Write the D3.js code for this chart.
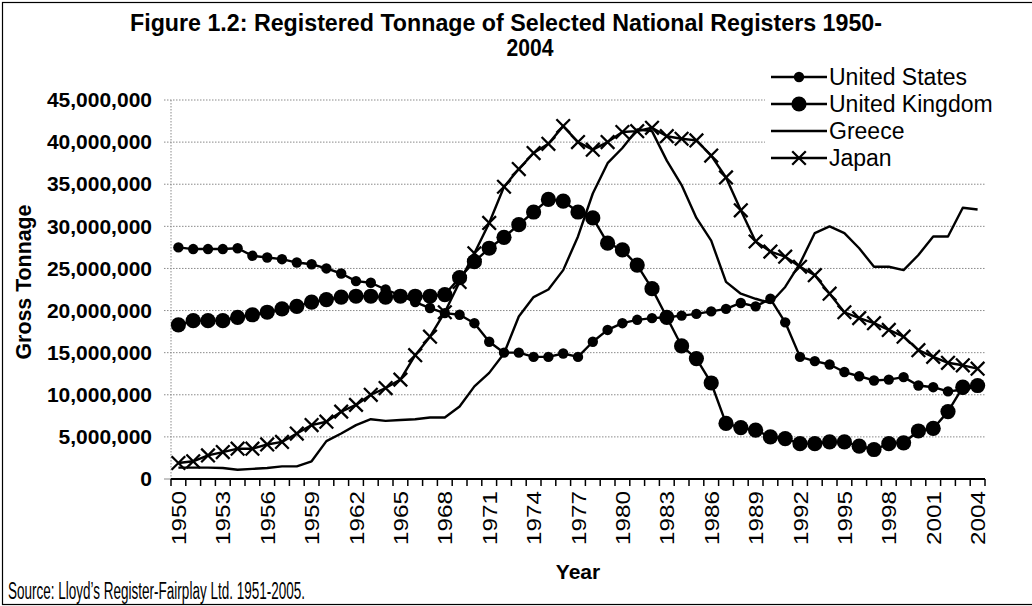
<!DOCTYPE html>
<html><head><meta charset="utf-8">
<script src="https://cdn.jsdelivr.net/npm/d3@7"></script>
<style>
html,body{margin:0;padding:0;background:#fff;}
svg{display:block;font-family:"Liberation Sans",Arial,sans-serif;}
</style></head>
<body><svg id="c" width="1032" height="606"></svg>
<script>
const years = [1950,1951,1952,1953,1954,1955,1956,1957,1958,1959,1960,1961,1962,1963,1964,1965,1966,1967,1968,1969,
1970,1971,1972,1973,1974,1975,1976,1977,1978,1979,1980,1981,1982,1983,1984,1985,1986,1987,1988,1989,
1990,1991,1992,1993,1994,1995,1996,1997,1998,1999,2000,2001,2002,2003,2004];
const tickYears = [1950,1953,1956,1959,1962,1965,1968,1971,1974,1977,1980,1983,1986,1989,1992,1995,1998,2001,2004];
const yTicks = [0,5e6,10e6,15e6,20e6,25e6,30e6,35e6,40e6,45e6];
// values in millions of gross tons
const unitedStates = [27.5,27.3,27.3,27.3,27.4,26.5,26.3,26.1,25.7,25.5,25.0,24.4,23.5,23.3,22.5,21.8,21.0,20.3,19.7,19.5,
18.5,16.3,15.0,15.0,14.5,14.5,14.9,14.5,16.3,17.7,18.5,18.9,19.1,19.2,19.4,19.6,19.9,20.2,20.9,20.5,
21.4,18.6,14.5,14.0,13.6,12.7,12.2,11.7,11.8,12.1,11.1,10.9,10.4,10.6,11.0];
const unitedKingdom = [18.3,18.8,18.8,18.8,19.2,19.5,19.8,20.2,20.5,21.0,21.3,21.6,21.7,21.7,21.6,21.7,21.7,21.7,21.9,23.9,
25.8,27.4,28.7,30.2,31.7,33.2,33.0,31.7,31.0,28.0,27.2,25.4,22.6,19.2,15.8,14.3,11.4,6.6,6.1,5.8,
5.0,4.8,4.2,4.2,4.4,4.4,3.9,3.5,4.2,4.3,5.7,6.0,8.0,10.9,11.1];
const greece = [1.35,1.35,1.35,1.3,1.1,1.2,1.3,1.5,1.5,2.1,4.5,5.4,6.4,7.1,6.9,7.0,7.1,7.3,7.3,8.6,
11.0,12.6,14.9,19.3,21.6,22.5,24.8,28.8,33.9,37.5,39.3,41.5,41.3,37.8,34.9,31.0,28.3,23.4,22.0,21.4,
20.9,22.8,25.6,29.2,30.0,29.2,27.4,25.2,25.2,24.8,26.6,28.8,28.8,32.2,32.0];
const japan = [1.9,2.1,2.8,3.2,3.6,3.6,4.1,4.4,5.4,6.4,6.8,8.0,8.8,10.0,10.8,11.8,14.7,16.9,19.8,23.4,
26.8,30.4,34.7,36.8,38.7,39.8,41.9,40.0,39.1,40.0,41.2,41.3,41.7,40.7,40.4,40.2,38.4,35.8,31.9,28.2,
27.0,26.4,25.2,24.2,22.0,19.8,19.1,18.5,17.7,16.9,15.3,14.5,13.8,13.5,13.1];
const seriesNames = ["United States","United Kingdom","Greece","Japan"];
const markerTypes = ["smallDot","bigDot","none","cross"];

const series = [unitedStates, unitedKingdom, greece, japan].map((vals,i)=>({
  name: seriesNames[i], marker: markerTypes[i],
  points: vals.map((v,j)=>({year: years[j], value: v*1e6}))
}));

const svg = d3.select("#c");
const L = 171, R = 985, T = 100, B = 479;
const x = d3.scaleBand().domain(years).range([L, R]).padding(0);
const cx = d => x(d) + x.bandwidth()/2;
const y = d3.scaleLinear().domain([0, 45e6]).range([B, T]);

// outer frame
svg.append("rect").attr("x",2.5).attr("y",2.5).attr("width",1040).attr("height",602)
  .attr("fill","none").attr("stroke","#000").attr("stroke-width",1.2);

// gridlines (dotted) + small left ticks
const grid = svg.append("g");
grid.selectAll("line").data(yTicks.filter(t=>t>0)).join("line")
  .attr("x1", L-7).attr("x2", R).attr("y1", d=>y(d)).attr("y2", d=>y(d))
  .attr("stroke","#8a8a8a").attr("stroke-width",1).attr("stroke-dasharray","1.5,1.5");
grid.append("line").attr("x1",L).attr("x2",L).attr("y1",T).attr("y2",B)
  .attr("stroke","#8a8a8a").attr("stroke-width",1).attr("stroke-dasharray","1.5,1.5");
grid.append("line").attr("x1",L-7).attr("x2",L).attr("y1",B).attr("y2",B)
  .attr("stroke","#8a8a8a").attr("stroke-width",1);

// y axis labels
const yAxis = d3.axisLeft(y).tickValues(yTicks).tickFormat(d3.format(",")).tickSize(0).tickPadding(0);
const gy = svg.append("g").attr("transform",`translate(${L-19},0)`).call(yAxis);
gy.select(".domain").remove();
gy.selectAll("text").attr("font-size",21).attr("font-weight","bold").attr("fill","#000")
  .attr("font-family",'"Liberation Sans",Arial,sans-serif');

// x axis
const xAxis = d3.axisBottom(x).tickValues(tickYears).tickSize(0).tickPadding(0);
const gx = svg.append("g").attr("transform",`translate(0,${B})`).call(xAxis);
gx.select(".domain").remove();
gx.selectAll("text").attr("font-size",21).attr("fill","#000")
  .attr("font-family",'"Liberation Sans",Arial,sans-serif')
  .attr("transform","translate(0,12) rotate(-90)")
  .attr("text-anchor","end").attr("dy","0.36em").attr("x",0).attr("y",0)
  .attr("textLength",54).attr("lengthAdjust","spacingAndGlyphs");
// tick marks at band boundaries
const bounds = years.map(yy=>x(yy)).concat([R]);
svg.append("g").selectAll("line").data(bounds).join("line")
  .attr("x1",d=>d).attr("x2",d=>d).attr("y1",B).attr("y2",B+7)
  .attr("stroke","#000").attr("stroke-width",1.5);
svg.append("line").attr("x1",L).attr("x2",R).attr("y1",B).attr("y2",B)
  .attr("stroke","#000").attr("stroke-width",1.8);

// series
const line = d3.line().x(d=>cx(d.year)).y(d=>y(d.value));
function drawMarker(g, type, px, py){
  if(type==="smallDot") g.append("circle").attr("cx",px).attr("cy",py).attr("r",5.2).attr("fill","#000");
  else if(type==="bigDot") g.append("circle").attr("cx",px).attr("cy",py).attr("r",7.6).attr("fill","#000");
  else if(type==="cross"){
    const s=6.8;
    g.append("path").attr("d",`M${px-s},${py-s}L${px+s},${py+s}M${px-s},${py+s}L${px+s},${py-s}`)
      .attr("stroke","#000").attr("stroke-width",2.3).attr("fill","none");
  }
}
series.forEach(s=>{
  const g = svg.append("g");
  g.append("path").datum(s.points).attr("d",line).attr("fill","none")
    .attr("stroke","#000").attr("stroke-width",2.4).attr("stroke-linejoin","round");
  s.points.forEach(p=>drawMarker(g, s.marker, cx(p.year), y(p.value)));
});

// legend
const lg = svg.append("g");
lg.append("rect").attr("x",765).attr("y",62).attr("width",250).attr("height",110).attr("fill","#fff");
const rowY = [77, 104, 131, 158];
series.forEach((s,i)=>{
  const yy = rowY[i];
  lg.append("line").attr("x1",771).attr("x2",827).attr("y1",yy).attr("y2",yy)
    .attr("stroke","#000").attr("stroke-width",2.4);
  drawMarker(lg, s.marker, 799, yy);
  lg.append("text").attr("x",829).attr("y",yy).attr("dy","0.36em")
    .attr("font-size",23).attr("fill","#000").text(s.name);
});

// titles
svg.append("text").attr("x",130).attr("y",31).attr("font-size",23.5).attr("font-weight","bold")
  .attr("textLength",752).attr("lengthAdjust","spacingAndGlyphs")
  .text("Figure 1.2: Registered Tonnage of Selected National Registers 1950-");
svg.append("text").attr("x",530).attr("y",56).attr("text-anchor","middle").attr("font-size",23.5).attr("font-weight","bold")
  .attr("textLength",47).attr("lengthAdjust","spacingAndGlyphs").text("2004");
svg.append("text").attr("transform","translate(31,282) rotate(-90)").attr("text-anchor","middle")
  .attr("font-size",21.5).attr("font-weight","bold").attr("textLength",155).attr("lengthAdjust","spacingAndGlyphs")
  .text("Gross Tonnage");
svg.append("text").attr("x",578).attr("y",579).attr("text-anchor","middle")
  .attr("font-size",21).attr("font-weight","bold").text("Year");
svg.append("text").attr("x",8).attr("y",599).attr("font-size",23.5)
  .attr("textLength",297).attr("lengthAdjust","spacingAndGlyphs")
  .text("Source: Lloyd\u2019s Register-Fairplay Ltd. 1951-2005.");
</script></body></html>
